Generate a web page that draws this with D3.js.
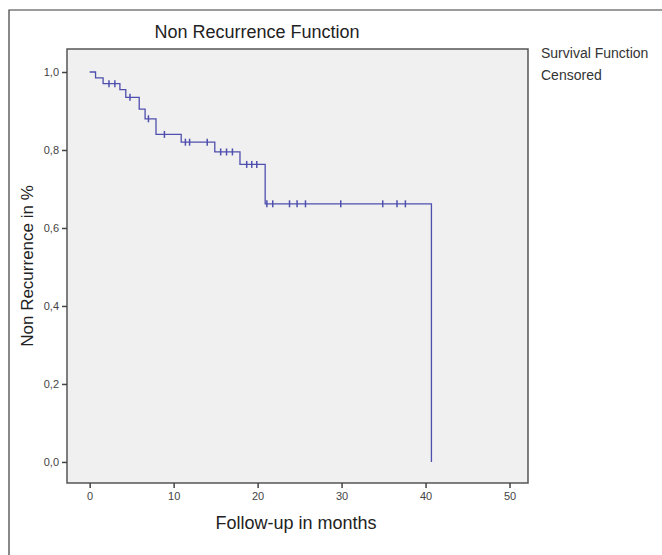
<!DOCTYPE html>
<html><head><meta charset="utf-8">
<script src="https://cdn.jsdelivr.net/npm/d3@7"></script>
<style>body{margin:0;background:#fff}svg{display:block}</style>
</head><body>
<script>
// Kaplan-Meier step events: time (months) and survival after the step
const eventTimes = [0.7, 1.6, 3.6, 4.3, 5.9, 6.6, 7.9, 10.9, 14.9, 17.9, 20.9, 40.7];
const eventValues = [0.985, 0.97, 0.955, 0.935, 0.905, 0.88, 0.84, 0.82, 0.795, 0.763, 0.662, 0.0];
// Censored observations (months)
const censoredTimes = [2.3, 3.0, 4.8, 7.0, 8.9, 11.4, 11.9, 14.0, 15.6, 16.3, 17.0, 18.7, 19.3, 19.9,
  21.1, 21.8, 23.8, 24.7, 25.7, 29.9, 34.9, 36.6, 37.6];
const xTicks = [0, 10, 20, 30, 40, 50];
const yTicks = [0, 0.2, 0.4, 0.6, 0.8, 1.0];
const legendLabels = ["Survival Function", "Censored"];

const W = 662, H = 555;
const svg = d3.select("body").append("svg").attr("width", W).attr("height", H);
const font = "'Liberation Sans', Arial, sans-serif";

// outer frame
svg.append("path").attr("d", `M9,${H} L9,10 L${W},10`).attr("fill", "none")
  .attr("stroke", "#3a3a3a").attr("stroke-width", 1.2);

const box = {l: 67, r: 528, t: 49, b: 483};
const x = d3.scaleLinear().domain([-2.7, 52.2]).range([box.l, box.r]);
const y = d3.scaleLinear().domain([-0.054, 1.059]).range([box.b, box.t]);

svg.append("rect").attr("x", box.l).attr("y", box.t).attr("width", box.r - box.l).attr("height", box.b - box.t)
  .attr("fill", "#f0f0f0").attr("stroke", "#555").attr("stroke-width", 1.5);

// axes
const xAxis = d3.axisBottom(x).tickValues(xTicks).tickSize(5).tickPadding(4).tickFormat(d3.format("d"));
const gx = svg.append("g").attr("transform", `translate(0,${box.b})`).call(xAxis);
const yAxis = d3.axisLeft(y).tickValues(yTicks).tickSize(5).tickPadding(3)
  .tickFormat(d => d3.format(".1f")(d).replace(".", ","));
const gy = svg.append("g").attr("transform", `translate(${box.l},0)`).call(yAxis);
[gx, gy].forEach(g => {
  g.select(".domain").remove();
  g.selectAll(".tick line").attr("stroke", "#444").attr("stroke-width", 1.5);
  g.selectAll(".tick text").attr("fill", "#444").attr("font-family", font).attr("font-size", "11px");
});

// survival step curve
const pts = [[0, 1.0]];
let prev = 1.0;
eventTimes.forEach((t, i) => { pts.push([t, prev]); pts.push([t, eventValues[i]]); prev = eventValues[i]; });
const line = d3.line().x(d => x(d[0])).y(d => y(d[1]));
const col = "#4f4fae";
svg.append("path").attr("d", line(pts)).attr("fill", "none").attr("stroke", col).attr("stroke-width", 1.3);

function survAt(t) {
  let v = 1.0;
  eventTimes.forEach((et, i) => { if (et <= t) v = eventValues[i]; });
  return v;
}
svg.append("g").selectAll("line").data(censoredTimes).join("line")
  .attr("x1", d => x(d)).attr("x2", d => x(d))
  .attr("y1", d => y(survAt(d)) - 3.5).attr("y2", d => y(survAt(d)) + 3.5)
  .attr("stroke", col).attr("stroke-width", 1.5);

// titles
svg.append("text").attr("x", 257).attr("y", 38).attr("text-anchor", "middle")
  .attr("font-family", font).attr("font-size", "18px").attr("fill", "#222").text("Non Recurrence Function");
svg.append("text").attr("x", 296).attr("y", 529).attr("text-anchor", "middle")
  .attr("font-family", font).attr("font-size", "18px").attr("fill", "#222").text("Follow-up in months");
svg.append("text").attr("transform", "translate(33,266) rotate(-90)").attr("text-anchor", "middle")
  .attr("font-family", font).attr("font-size", "17px").attr("fill", "#222").text("Non Recurrence in %");

// legend
svg.append("g").selectAll("text").data(legendLabels).join("text")
  .attr("x", 541).attr("y", (d, i) => 58 + i * 22)
  .attr("font-family", font).attr("font-size", "14px").attr("fill", "#333").text(d => d);
</script>
</body></html>
